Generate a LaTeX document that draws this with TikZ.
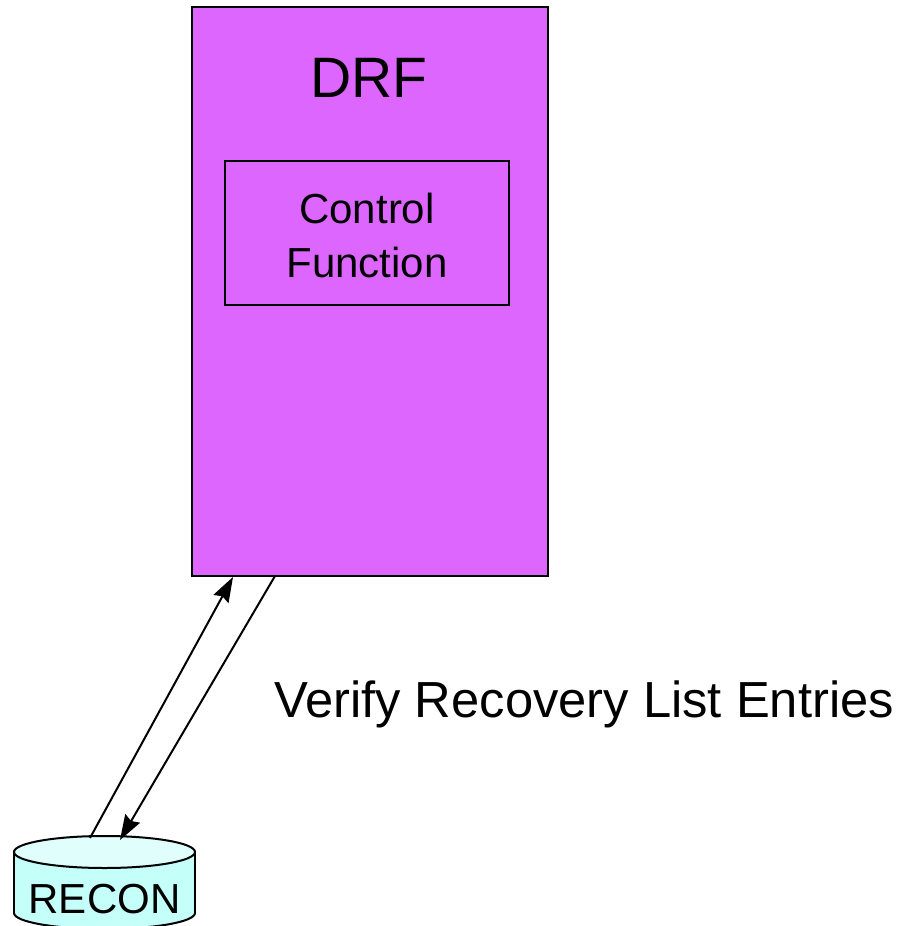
\documentclass[tikz,border=0pt]{standalone}
\usepackage{fontspec}
\setmainfont{Liberation Sans}
\usetikzlibrary{arrows.meta}

\begin{document}
\begin{tikzpicture}[x=1pt,y=-1pt,>={Stealth[length=25pt,width=17pt,inset=3pt]},line width=2pt,
    box/.style={shape=rectangle,draw=black,inner sep=0pt}]
                \useasboundingbox (0, 0) rectangle (903, 926);
                \definecolor{drfpurple}{RGB}{221,102,255}
                \definecolor{reconbody}{RGB}{196,255,250}
                \definecolor{reconend}{RGB}{224,255,252}
                \node[box,fill=drfpurple,minimum width=356pt,minimum height=569pt](DRF)at(370, 291.5){};
                \node[font=\fontsize{57}{57}\selectfont](Title)at(369, 78){DRF};
                \node[box,minimum width=284pt,minimum height=144pt](Control)at(367, 232.5){};
                \node[align=center,font=\fontsize{42}{54}\selectfont](ControlText)at(367, 235.5){Control\\Function};
                % disk drawn by hand: body, then top end
                \draw[fill=reconbody](104.5, 913) ellipse [x radius=90.5pt,y radius=16pt];
                \fill[reconbody](14, 852) rectangle (195, 913);
                \draw(14, 852) -- (14, 913) (195, 852) -- (195, 913);
                \draw[fill=reconend](104.5, 852) ellipse [x radius=90.5pt,y radius=16pt];
                \node[font=\fontsize{42}{42}\selectfont](RECON)at(104.5, 899){RECON};
                \node[font=\fontsize{50.7}{50.7}\selectfont](Verify)at(584, 704){Verify Recovery List Entries};
                \coordinate(DiskOut)at(90, 838);
                \coordinate(DiskIn)at(120, 840);
                \coordinate(DrfIn)at(233, 577);
                \coordinate(DrfOut)at(275, 576);
                \path[->](DiskOut) edge (DrfIn)
                (DrfOut) edge (DiskIn);
            \end{tikzpicture}
\end{document}
